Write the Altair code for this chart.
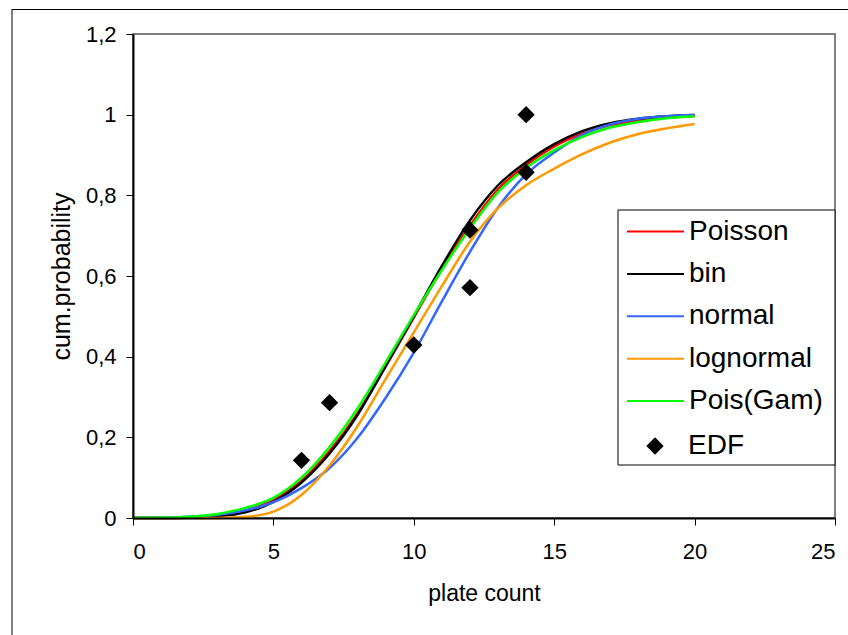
import altair as alt
import pandas as pd

# ---- data ----
counts = list(range(0, 21))
poisson = [0.0, 0.0003, 0.0015, 0.006, 0.018, 0.045, 0.092, 0.166, 0.26, 0.376, 0.497,
           0.617, 0.725, 0.815, 0.875, 0.921, 0.953, 0.974, 0.986, 0.993, 0.997]
binom = [0.0, 0.0001, 0.0008, 0.004, 0.014, 0.040, 0.088, 0.160, 0.256, 0.377, 0.500,
         0.625, 0.738, 0.825, 0.882, 0.927, 0.959, 0.979, 0.990, 0.996, 0.999]
normal = [0.0004, 0.0012, 0.0033, 0.008, 0.019, 0.039, 0.074, 0.124, 0.199, 0.298, 0.41,
          0.537, 0.66, 0.77, 0.852, 0.906, 0.950, 0.976, 0.990, 0.996, 0.999]
lognormal = [0.0, 0.0, 0.0, 0.0003, 0.003, 0.016, 0.057, 0.13, 0.228, 0.345, 0.46,
             0.575, 0.685, 0.768, 0.825, 0.866, 0.902, 0.931, 0.952, 0.966, 0.977]
poisgam = [0.0, 0.0005, 0.003, 0.010, 0.025, 0.050, 0.100, 0.176, 0.272, 0.386, 0.503,
           0.615, 0.718, 0.808, 0.868, 0.912, 0.945, 0.968, 0.982, 0.991, 0.996]

edf_x = [6, 7, 10, 12, 12, 14, 14]
edf_y = [0.143, 0.286, 0.429, 0.571, 0.714, 0.857, 1.0]

curve_names = ["Poisson", "bin", "normal", "lognormal", "Pois(Gam)"]
curve_colors = ["#FF0000", "#000000", "#3366FF", "#FF9900", "#00FF00"]
edf_name = "EDF"

x_ticks = [0, 5, 10, 15, 20, 25]
y_ticks = [0, 0.2, 0.4, 0.6, 0.8, 1.0, 1.2]

curves = {"Poisson": poisson, "bin": binom, "normal": normal,
          "lognormal": lognormal, "Pois(Gam)": poisgam}

rows = []
for name, vals in curves.items():
    for c, v in zip(counts, vals):
        rows.append({"series": name, "x": c, "y": v})
df_curves = pd.DataFrame(rows)
df_edf = pd.DataFrame({"series": [edf_name] * len(edf_x), "x": edf_x, "y": edf_y})

FONT = "Liberation Sans"
W, H = 702, 484
LINE_SYM = "M-1.4,0L1.4,0"

color_scale = alt.Scale(domain=curve_names, range=curve_colors)

common_legend = dict(
    title=None,
    orient="none",
    labelFont=FONT,
    labelFontSize=28,
    labelColor="#000000",
    labelLimit=400,
    padding=0,
)
line_legend = alt.Legend(
    legendX=501, legendY=176,
    symbolType=LINE_SYM, symbolSize=1656, symbolStrokeWidth=2,
    labelOffset=12, rowPadding=6.4,
    **common_legend,
)
edf_legend = alt.Legend(
    legendX=508, legendY=398,
    symbolType="diamond", symbolSize=300, symbolFillColor="#000000",
    symbolStrokeWidth=0, symbolOpacity=1, labelOffset=19,
    **common_legend,
)

x_enc = alt.X(
    "x:Q",
    scale=alt.Scale(domain=[0, 25], nice=False, zero=False),
    axis=alt.Axis(
        values=x_ticks, title="plate count", grid=False,
        tickSize=7, tickColor="#000000", tickWidth=1,
        domainColor="#000000", domainWidth=2,
        labelFont=FONT, labelFontSize=22, labelColor="#000000", labelPadding=16,
        titleFont=FONT, titleFontSize=23, titleFontWeight="normal", titleColor="#000000",
        titlePadding=20, zindex=1,
    ),
)
y_enc = alt.Y(
    "y:Q",
    scale=alt.Scale(domain=[0, 1.2], nice=False),
    axis=alt.Axis(
        values=y_ticks, title="cum.probability", grid=False,
        labelExpr="replace(format(datum.value, '.1~f'), '.', ',')",
        tickSize=7, tickColor="#000000", tickWidth=1,
        domainColor="#000000", domainWidth=2,
        labelFont=FONT, labelFontSize=22, labelColor="#000000", labelPadding=10,
        titleFont=FONT, titleFontSize=25, titleFontWeight="normal", titleColor="#000000",
        titlePadding=11, zindex=1,
    ),
)

layers = []
for i, name in enumerate(curve_names):
    layers.append(
        alt.Chart(df_curves)
        .transform_filter(alt.datum.series == name)
        .mark_line(strokeWidth=2.5, interpolate="monotone")
        .encode(
            x=x_enc, y=y_enc,
            color=alt.Color("series:N", scale=color_scale,
                            legend=line_legend if i == 0 else None),
        )
    )

points = (
    alt.Chart(df_edf)
    .mark_point(filled=True, size=300, opacity=1, color="#000000")
    .encode(
        x="x:Q", y="y:Q",
        shape=alt.Shape("series:N",
                        scale=alt.Scale(domain=[edf_name], range=["diamond"]),
                        legend=edf_legend),
    )
)

frame_df = pd.DataFrame({"k": [0]})
legend_box = (
    alt.Chart(frame_df)
    .mark_rect(fill="white", stroke="#000000", strokeWidth=1)
    .encode(x=alt.value(485), x2=alt.value(702), y=alt.value(176), y2=alt.value(431))
)
frame_left = (
    alt.Chart(frame_df).mark_rule(color="#000000", strokeWidth=1)
    .encode(x=alt.value(-121), y=alt.value(-25), y2=alt.value(610))
)
frame_top = (
    alt.Chart(frame_df).mark_rule(color="#000000", strokeWidth=1)
    .encode(x=alt.value(-121), x2=alt.value(720), y=alt.value(-24.5))
)

chart = (
    alt.layer(legend_box, *layers, points, frame_left, frame_top)
    .properties(
        width=W, height=H,
        autosize=alt.AutoSizeParams(type="none"),
        padding={"left": 133, "top": 34, "right": 13, "bottom": 117},
        background="white",
    )
    .configure_view(stroke="#808080", strokeWidth=2)
)

chart.save("out.html", embed_options={"renderer": "svg", "actions": False})
